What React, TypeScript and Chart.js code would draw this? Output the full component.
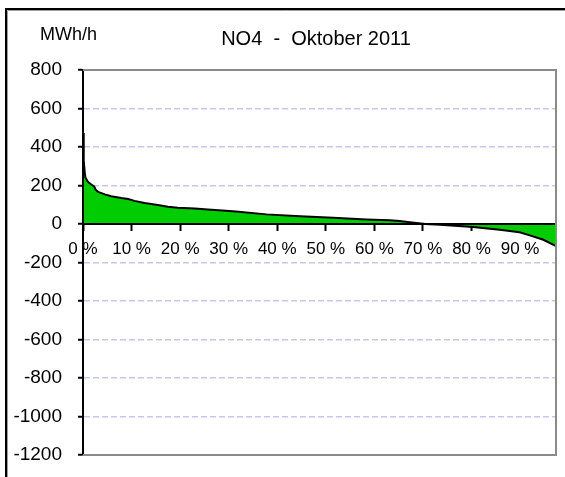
import React, { useEffect, useRef } from "react";
import { Chart, registerables } from "chart.js";

Chart.register(...registerables);

const chartTitle = "NO4  -  Oktober 2011";
const unitLabel = "MWh/h";

// Duration curve: share of hours (%) and value (MWh/h)
const percentShare = [
  0, 0.15, 0.35, 0.5, 1, 1.7, 2.3, 2.6, 3.1, 4.5, 5.8, 7.9, 9.3, 10.6, 12.7,
  15.4, 17.5, 19.5, 23, 25.7, 30.9, 37.8, 44.7, 51.5, 58.4, 63.2, 65.2, 67.3,
  70.5, 73.5, 80.3, 85.8, 89.9, 92, 94.8, 97.4,
];
const exchangeValues = [
  473, 330, 270, 241, 219, 205, 195, 178, 167, 154, 144, 135, 130, 120, 109,
  99, 90, 85, 80, 75, 66, 50, 40, 33, 24, 19, 16, 9,
  0, -4, -16, -30, -43, -59, -82, -115,
];

const xTickValues = [0, 10, 20, 30, 40, 50, 60, 70, 80, 90];
const yMin = -1200;
const yMax = 800;
const yStep = 200;
const xMax = 97.4;

const FONT = '"Liberation Sans", Arial, sans-serif';

const decorPlugin = {
  id: "decor",
  afterDraw(chart: any) {
    const { ctx, chartArea: a } = chart;
    ctx.save();
    // plot area border (top, right, bottom) in gray
    ctx.strokeStyle = "#8a8a8a";
    ctx.lineWidth = 2;
    ctx.beginPath();
    ctx.moveTo(a.left, a.top);
    ctx.lineTo(a.right, a.top);
    ctx.lineTo(a.right, a.bottom);
    ctx.lineTo(a.left, a.bottom);
    ctx.stroke();
    // outer frame
    ctx.strokeStyle = "#000";
    ctx.lineWidth = 2;
    ctx.beginPath();
    ctx.moveTo(6, 477);
    ctx.lineTo(6, 9);
    ctx.lineTo(565, 9);
    ctx.stroke();
    ctx.strokeStyle = "#a0a0a0";
    ctx.lineWidth = 1;
    ctx.beginPath();
    ctx.moveTo(7.5, 477);
    ctx.lineTo(7.5, 10.5);
    ctx.lineTo(565, 10.5);
    ctx.stroke();
    // texts
    ctx.fillStyle = "#000";
    ctx.textBaseline = "alphabetic";
    ctx.font = `20px ${FONT}`;
    ctx.textAlign = "center";
    ctx.fillText(chartTitle, 316, 45);
    ctx.font = `18px ${FONT}`;
    ctx.textAlign = "left";
    ctx.fillText(unitLabel, 40, 40);
    ctx.restore();
  },
};

export default function App() {
  const ref = useRef<HTMLCanvasElement>(null);
  useEffect(() => {
    if (!ref.current) return;
    const points = percentShare.map((p, i) => ({ x: p, y: exchangeValues[i] }));
    const chart = new Chart(ref.current, {
      type: "line",
      data: {
        datasets: [
          {
            data: points,
            borderColor: "#000",
            borderWidth: 2,
            backgroundColor: "#00cc00",
            fill: "origin",
            pointRadius: 0,
            tension: 0,
          },
        ],
      },
      options: {
        animation: false,
        responsive: false,
        events: [],
        layout: { padding: { left: 0, top: 70, right: 9, bottom: 22 } },
        plugins: {
          legend: { display: false },
          tooltip: { enabled: false },
          title: { display: false },
        },
        scales: {
          x: {
            type: "linear",
            min: 0,
            max: xMax,
            position: { y: 0 } as any,
            afterFit: (s: any) => {
              s.height = 0;
              s.paddingTop = 0;
              s.paddingBottom = 0;
            },
            afterBuildTicks: (s: any) => {
              s.ticks = xTickValues.map((v) => ({ value: v }));
            },
            grid: {
              display: true,
              drawOnChartArea: false,
              drawTicks: true,
              tickLength: 6,
              tickColor: "#000",
              tickWidth: 2,
            },
            border: { display: true, color: "#000", width: 2, z: 1 },
            ticks: {
              callback: (v: any) => `${v} %`,
              font: { family: FONT, size: 17 },
              color: "#000",
              padding: 9,
              maxRotation: 0,
              autoSkip: false,
            },
          },
          y: {
            min: yMin,
            max: yMax,
            afterFit: (s: any) => {
              s.width = 83;
              s.paddingTop = 0;
              s.paddingBottom = 0;
            },
            ticks: {
              stepSize: yStep,
              callback: (v: any) => String(v),
              font: { family: FONT, size: 19 },
              color: "#000",
              padding: 16,
            },
            grid: {
              color: "#c6c6f2",
              lineWidth: 1.5,
              drawTicks: true,
              tickLength: 5,
              tickColor: "#000",
              tickWidth: 2,
              tickBorderDash: [],
            },
            border: { display: true, color: "#000", width: 2, z: 1, dash: [6, 3] },
          },
        },
      },
      plugins: [decorPlugin],
    });
    return () => chart.destroy();
  }, []);
  return (
    <div style={{ position: "absolute", left: 0, top: 0, width: 565, height: 477, background: "#fff" }}>
      <canvas ref={ref} width={565} height={477} />
    </div>
  );
}
